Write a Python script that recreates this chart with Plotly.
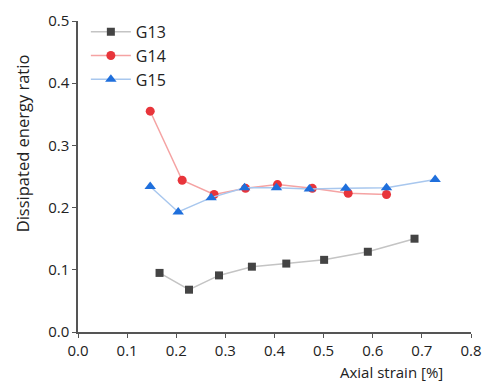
import plotly.graph_objects as go

g13_x = [0.166, 0.226, 0.287, 0.354, 0.424, 0.501, 0.590, 0.685]
g13_y = [0.095, 0.068, 0.091, 0.105, 0.110, 0.116, 0.129, 0.150]
g14_x = [0.147, 0.212, 0.277, 0.341, 0.406, 0.477, 0.550, 0.628]
g14_y = [0.355, 0.244, 0.221, 0.231, 0.237, 0.231, 0.223, 0.221]
g15_x = [0.147, 0.204, 0.271, 0.339, 0.404, 0.471, 0.545, 0.628, 0.727]
g15_y = [0.234, 0.193, 0.216, 0.232, 0.232, 0.230, 0.231, 0.232, 0.245]

x_ticks = [0.0, 0.1, 0.2, 0.3, 0.4, 0.5, 0.6, 0.7, 0.8]
y_ticks = [0.0, 0.1, 0.2, 0.3, 0.4, 0.5]

font = "Open Sans, DejaVu Sans, sans-serif"
txt = "#222222"

fig = go.Figure()
fig.add_trace(go.Scatter(x=g13_x, y=g13_y, name="G13", mode="lines+markers", legendgroup="a",
                         line=dict(color="#c4c4c4", width=1.5),
                         marker=dict(symbol="square", size=8, color="#444444")))
fig.add_trace(go.Scatter(x=g14_x, y=g14_y, name="G14", mode="lines+markers", legendgroup="b",
                         line=dict(color="#f5a3a3", width=1.5),
                         marker=dict(symbol="circle", size=9, color="#e8353b")))
fig.add_trace(go.Scatter(x=g15_x, y=g15_y, name="G15", mode="lines+markers", legendgroup="c",
                         line=dict(color="#a8c7ee", width=1.5),
                         marker=dict(symbol="triangle-up", size=10, color="#1f6fdc")))

axis_common = dict(showgrid=False, zeroline=False, showline=True, linecolor="#555555",
                   linewidth=1.5, ticks="outside", ticklen=4, tickcolor="#555555",
                   ticklabeloverflow="allow",
                   tickfont=dict(size=15, color=txt, family=font))

fig.update_xaxes(range=[0, 0.8], tickvals=x_ticks, ticktext=[f"{v:.1f}" for v in x_ticks],
                 **axis_common)
fig.update_yaxes(range=[0, 0.5], tickvals=y_ticks, ticktext=[f"{v:.1f}" for v in y_ticks],
                 **axis_common)

fig.add_annotation(text="Axial strain [%]", xref="x", yref="paper", x=0.638, y=-0.128,
                   xanchor="center", yanchor="middle", showarrow=False, borderpad=0,
                   font=dict(size=15, color=txt, family=font))
fig.add_annotation(text="Dissipated energy ratio", xref="paper", yref="paper", x=-0.139, y=0.608,
                   xanchor="center", yanchor="middle", showarrow=False, textangle=-90,
                   font=dict(size=16.5, color=txt, family=font))

fig.update_layout(
    width=492, height=382,
    margin=dict(l=78, r=10, t=18, b=50),
    plot_bgcolor="white", paper_bgcolor="white",
    showlegend=True,
    legend=dict(x=0.02, y=1.02, xanchor="left", yanchor="top", bgcolor="rgba(0,0,0,0)",
                font=dict(size=16, color=txt, family=font), itemwidth=40,
                tracegroupgap=0),
)

fig.write_html("out.html", config={"displayModeBar": False},
               post_script="document.body.style.margin='0';document.body.style.overflow='hidden';")
